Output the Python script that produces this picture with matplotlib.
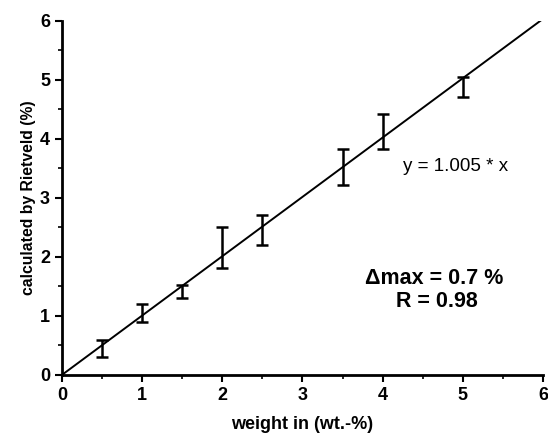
import numpy as np
import matplotlib.pyplot as plt
from matplotlib.ticker import MultipleLocator

plt.rcParams['font.family'] = ['Liberation Sans', 'DejaVu Sans']

weight = [0.5, 1.0, 1.5, 2.0, 2.5, 3.5, 4.0, 5.0]
rietveld = [0.45, 1.05, 1.41, 2.16, 2.45, 3.52, 4.12, 4.88]
err = [0.14, 0.15, 0.11, 0.35, 0.25, 0.31, 0.30, 0.17]

slope = 1.005
fit_x = [0, 6]

fig = plt.figure(figsize=(5.48, 4.38), dpi=100)
ax = fig.add_axes([0.113, 0.144, 0.878, 0.809])

ax.plot(fit_x, [slope * v for v in fit_x], 'k-', lw=1.4)
ax.errorbar(weight, rietveld, yerr=err, fmt='none', ecolor='k',
            elinewidth=1.8, capsize=4, capthick=1.8)

ax.set_xlim(0, 6)
ax.set_ylim(0, 6)
ax.xaxis.set_major_locator(MultipleLocator(1))
ax.yaxis.set_major_locator(MultipleLocator(1))
ax.xaxis.set_minor_locator(MultipleLocator(0.5))
ax.yaxis.set_minor_locator(MultipleLocator(0.5))
ax.tick_params(which='major', direction='out', length=5, width=1.5,
               labelsize=13)
ax.tick_params(which='minor', direction='out', length=3, width=1.2)
for t in ax.get_xticklabels() + ax.get_yticklabels():
    t.set_fontweight('bold')

ax.spines['top'].set_visible(False)
ax.spines['right'].set_visible(False)
ax.spines['left'].set_linewidth(2)
ax.spines['bottom'].set_linewidth(2)

ax.set_xlabel('weight in (wt.-%)', fontsize=13, fontweight='bold', labelpad=9)
ax.set_ylabel('calculated by Rietveld (%)', fontsize=11.3, fontweight='bold',
              labelpad=3)

ax.text(4.91, 3.53, 'y = 1.005 * x', fontsize=13.5, ha='center', va='center')
ax.text(4.64, 1.64, '\u0394max = 0.7 %', fontsize=15.5, fontweight='bold',
        ha='center', va='center')
ax.text(4.67, 1.25, 'R = 0.98', fontsize=15.5, fontweight='bold',
        ha='center', va='center')

fig.savefig('out.png', dpi=100)
